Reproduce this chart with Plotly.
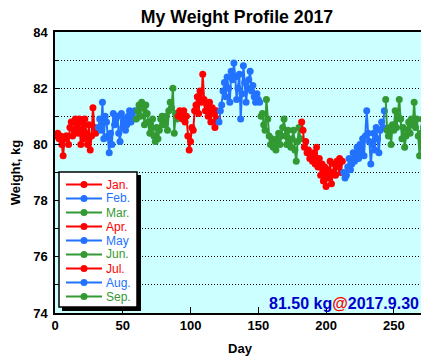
import plotly.graph_objects as go

months = ["Jan.", "Feb.", "Mar.", "Apr.", "May", "Jun.", "Jul.", "Aug.", "Sep."]
colors = ["#ff0000", "#2272ff", "#339933"] * 3
month_days = [31, 28, 31, 30, 31, 30, 31, 31, 30]

jan = [80.3, 80.4, 80.2, 80.3, 80.0, 79.6, 80.2, 80.3, 80.3, 80.0, 80.6, 80.8, 80.3, 80.5, 80.9, 80.7,
       80.4, 80.9, 80.0, 80.8, 80.2, 80.9, 80.4, 80.0, 80.7, 79.8, 80.3, 81.3, 80.6, 80.4, 80.5]
feb = [80.6, 80.9, 80.5, 81.5, 80.2, 81.0, 80.8, 80.3, 79.7, 80.4, 80.0, 81.1, 80.7, 80.9, 81.0, 80.4,
       80.1, 81.1, 80.6, 80.9, 80.5, 80.7, 81.0, 81.2, 80.8, 81.0, 80.9, 81.2]
mar = [80.9, 81.2, 81.4, 81.0, 81.5, 81.3, 80.7, 81.4, 81.1, 80.8, 80.4, 80.6, 80.9, 80.3, 80.1, 80.6,
       80.2, 80.5, 80.9, 81.0, 80.7, 80.9, 81.0, 80.5, 81.2, 81.5, 81.3, 82.0, 80.4, 81.1, 80.9]
apr = [81.0, 81.2, 81.1, 80.9, 81.2, 80.8, 81.0, 80.3, 79.8, 80.1, 80.6, 80.5, 81.2, 81.4, 81.7, 81.1,
       81.9, 81.5, 82.5, 81.6, 81.2, 81.4, 81.0, 81.5, 80.8, 81.3, 81.1, 80.6, 81.2, 80.9]
may = [80.8, 81.2, 81.4, 81.9, 82.2, 81.7, 82.4, 82.0, 81.5, 82.6, 82.3, 82.9, 82.4, 81.6, 82.0, 82.5,
       80.9, 81.8, 82.8, 82.2, 81.5, 82.0, 82.3, 82.6, 81.9, 82.1, 81.7, 81.5, 81.8, 81.6, 81.5]
jun = [81.0, 81.1, 80.7, 80.5, 81.6, 80.9, 80.3, 80.0, 80.2, 79.9, 80.1, 79.8, 80.2, 80.4, 80.0, 80.3,
       80.6, 80.9, 80.3, 80.0, 80.5, 80.1, 79.9, 80.2, 80.5, 79.8, 79.4, 80.1, 80.6, 80.2]
jul = [80.8, 80.5, 79.9, 80.1, 79.7, 79.8, 79.5, 79.6, 79.4, 79.7, 79.3, 79.9, 79.2, 79.5, 78.9, 79.3,
       78.7, 79.2, 78.5, 79.1, 78.8, 79.4, 78.6, 79.0, 79.3, 78.9, 79.4, 79.2, 79.5, 79.0, 79.4]
aug = [79.0, 78.8, 78.9, 79.2, 79.5, 79.1, 79.3, 79.7, 79.4, 79.6, 79.9, 79.5, 80.0, 79.7, 80.2, 79.6,
       80.3, 81.2, 80.4, 80.1, 79.3, 80.0, 80.4, 79.8, 80.6, 80.2, 79.7, 80.5, 80.8, 80.6, 81.2]
sep = [81.6, 80.5, 80.3, 80.6, 80.0, 80.7, 80.5, 81.2, 80.6, 81.0, 81.6, 80.9, 80.2, 80.6, 79.9, 80.3,
       80.5, 80.8, 80.4, 80.9, 80.7, 81.5, 80.6, 80.9, 80.3, 79.6, 80.4, 80.9, 80.6, 81.5]
weights = [jan, feb, mar, apr, may, jun, jul, aug, sep]

x_range = [0, 273]
y_range = [74, 84]
x_ticks = [0, 50, 100, 150, 200, 250]
y_ticks = [74, 76, 78, 80, 82, 84]

# window geometry (page body has an 8px default margin)
OFF = 8
WIN_W, WIN_H = 429, 364
PL, PR, PT, PB = 55, 425, 32, 313     # plot area in window pixels
W, H = WIN_W - OFF, WIN_H - OFF
L, T = PL - OFF, PT - OFF
R, B = WIN_W - PR, WIN_H - PB
PW, PH = PR - PL, PB - PT

def px(xp):
    return (xp - PL) / PW

def py(yp):
    return (PB - yp) / PH

FONT = "Liberation Sans, Arial, sans-serif"
fig = go.Figure()
start = 1
for name, col, ys, nd in zip(months, colors, weights, month_days):
    days = list(range(start, start + len(ys)))
    start += nd
    fig.add_trace(go.Scatter(x=days, y=ys, mode="lines+markers", name=name,
                             line=dict(color=col, width=2),
                             marker=dict(color=col, size=7),
                             showlegend=False, cliponaxis=False))

shapes = []
annotations = []
# legend box with drop shadow
bx0, bx1, by0, by1 = 59, 137, 172, 307
shapes.append(dict(type="rect", xref="paper", yref="paper", x0=px(bx0 + 3), x1=px(bx1 + 4),
                   y0=py(by1 + 4), y1=py(by0 + 3), fillcolor="black", line=dict(width=0), layer="above"))
shapes.append(dict(type="rect", xref="paper", yref="paper", x0=px(bx0), x1=px(bx1),
                   y0=py(by1), y1=py(by0), fillcolor="white", line=dict(color="black", width=1.5), layer="above"))
for i, (name, col) in enumerate(zip(months, colors)):
    yc = 184.5 + 14 * i
    shapes.append(dict(type="line", xref="paper", yref="paper", x0=px(66), x1=px(102),
                       y0=py(yc), y1=py(yc), line=dict(color=col, width=2), layer="above"))
    shapes.append(dict(type="circle", xref="paper", yref="paper", x0=px(80.5), x1=px(87.5),
                       y0=py(yc + 3.5), y1=py(yc - 3.5), fillcolor=col, line=dict(width=0), layer="above"))
    annotations.append(dict(xref="paper", yref="paper", x=px(104), y=py(yc), text=name,
                            showarrow=False, xanchor="left", yanchor="middle",
                            font=dict(family=FONT, size=12, color=col)))

last_label = (f"<span style='color:#0000cc'>{sep[-1]:.2f} kg</span>"
              f"<span style='color:#ff0000'>@</span>"
              f"<span style='color:#0000cc'>2017.9.30</span>")
annotations.append(dict(xref="paper", yref="paper", x=px(421), y=py(303), text=last_label,
                        showarrow=False, xanchor="right", yanchor="middle",
                        font=dict(family=FONT, size=16, weight="bold", color="#0000cc")))

fig.update_layout(
    width=W, height=H,
    margin=dict(l=L, r=R, t=T, b=B, pad=0, autoexpand=False),
    paper_bgcolor="white", plot_bgcolor="#ccffff",
    title=dict(text="My Weight Profile 2017", xref="paper", x=px(237), xanchor="center",
               yref="container", y=1 - (16.5 - OFF) / H, yanchor="middle",
               font=dict(family=FONT, size=17.7, weight="bold", color="black")),
    font=dict(family=FONT, color="black"),
    shapes=shapes, annotations=annotations,
    xaxis=dict(range=x_range, tickvals=x_ticks, ticks="inside", ticklen=6, tickcolor="black",
               showline=True, mirror=True, linecolor="black", linewidth=1.5,
               showgrid=False, zeroline=False, automargin=False,
               tickfont=dict(family=FONT, size=13, weight="bold"),
               title=dict(text="Day", font=dict(family=FONT, size=13, weight="bold"), standoff=12)),
    yaxis=dict(range=y_range, tickvals=y_ticks, ticks="inside", ticklen=5, tickcolor="black",
               showline=True, mirror=True, linecolor="black", linewidth=1.5,
               showgrid=True, gridcolor="black", gridwidth=1, griddash="1px,2px", zeroline=False,
               automargin=False, ticklabelstandoff=3,
               minor=dict(dtick=1, ticks="inside", ticklen=3, tickcolor="black",
                          showgrid=True, gridcolor="black", gridwidth=1, griddash="1px,2px"),
               tickfont=dict(family=FONT, size=13, weight="bold"),
               title=dict(text="Weight, kg", font=dict(family=FONT, size=13, weight="bold"), standoff=13)),
)

fig.write_html("out.html")
